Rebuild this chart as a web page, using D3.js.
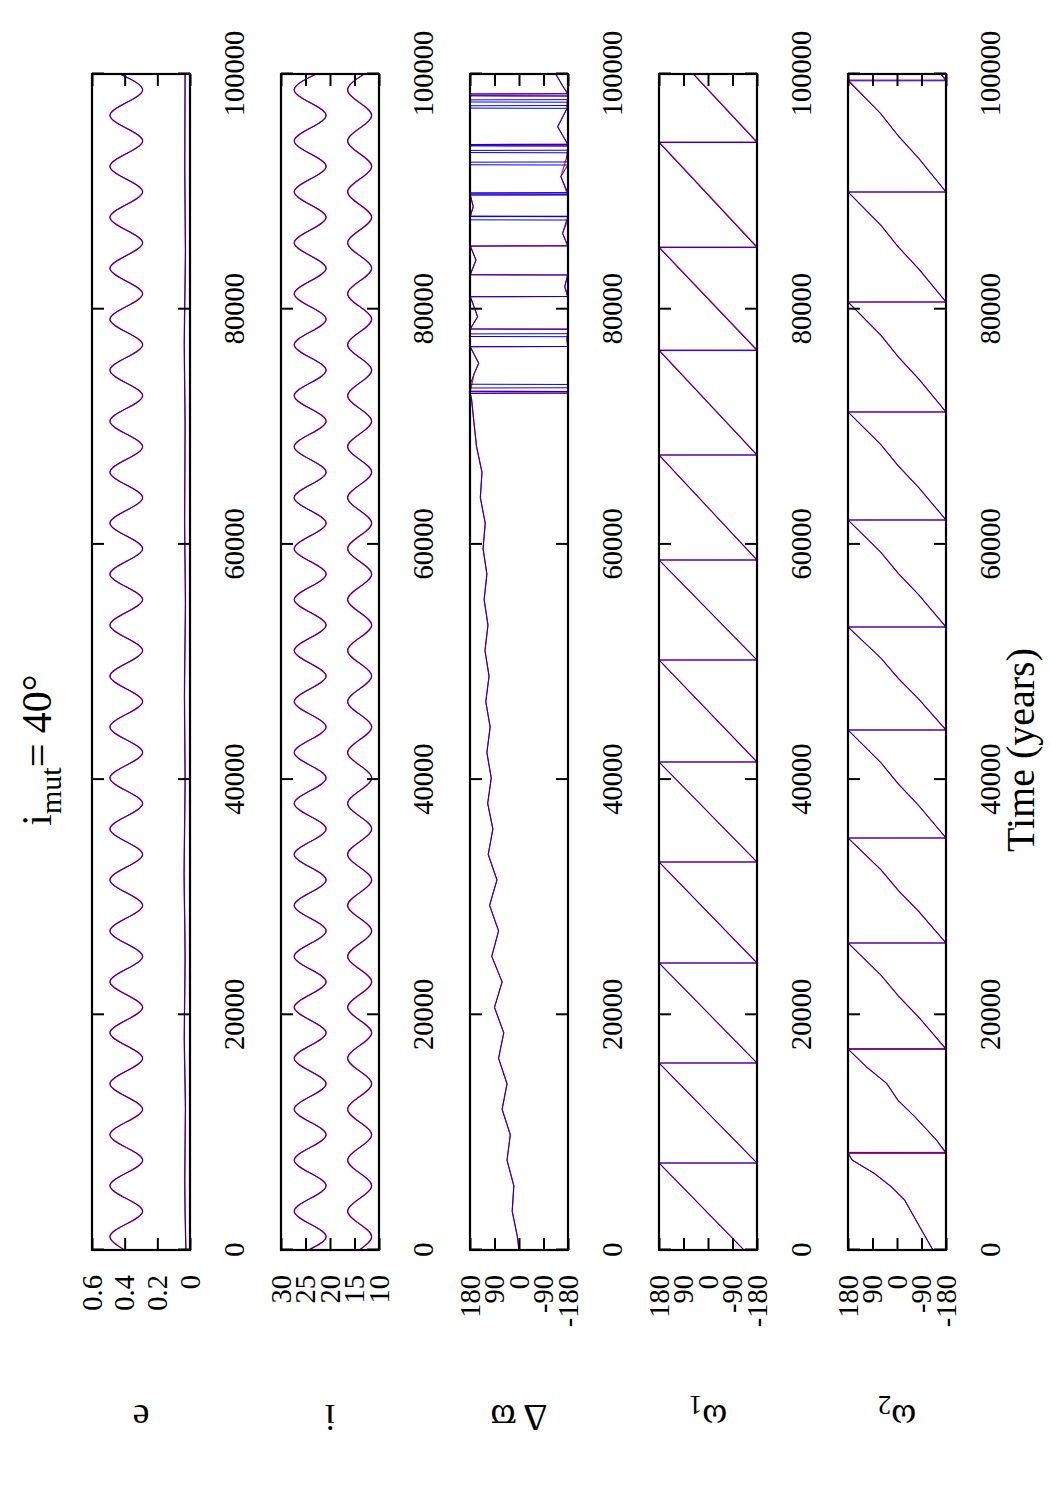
<!DOCTYPE html>
<html><head><meta charset="utf-8">
<script src="https://cdn.jsdelivr.net/npm/d3@7"></script>
<style>body{margin:0;background:#fff}</style>
</head><body>
<script>
// ---------- data ----------
const timeTicks = [0, 20000, 40000, 60000, 80000, 100000];
const eTicks = [0, 0.2, 0.4, 0.6];
const eTickLabels = ["0", "0.2", "0.4", "0.6"];
const iTicks = [10, 15, 20, 25, 30];
const angleTicks = [-180, -90, 0, 90, 180];
const panelNames = ["e", "i", "Δ ϖ", "ω", "ω"];
const panelSubs = ["", "", "", "1", "2"];

// times of extremes of the secular oscillation (years)
const extT = [0, 1130, 3297, 5464, 7631, 9798, 11965, 14132, 16299, 18466, 20633, 22800, 24967, 27134, 29301, 31468, 33635, 35802, 37969, 40136, 42303, 44470, 46637, 48804, 50971, 53138, 55305, 57472, 59639, 61806, 63973, 66140, 68307, 70474, 72641, 74808, 76975, 79142, 81309, 83476, 85643, 87810, 89977, 92144, 94311, 96478, 98645, 100000];
const eOuter = [0.40, 0.49, 0.29, 0.49, 0.29, 0.49, 0.29, 0.49, 0.29, 0.49, 0.29, 0.49, 0.29, 0.49, 0.29, 0.49, 0.29, 0.49, 0.29, 0.49, 0.29, 0.49, 0.29, 0.49, 0.29, 0.49, 0.29, 0.49, 0.29, 0.49, 0.29, 0.49, 0.29, 0.49, 0.29, 0.49, 0.29, 0.49, 0.29, 0.49, 0.29, 0.49, 0.29, 0.49, 0.29, 0.49, 0.29, 0.43];
const iOuterA = [24.4, 20.8, 27.3, 20.8, 27.3, 20.8, 27.3, 20.8, 27.3, 20.8, 27.3, 20.8, 27.3, 20.8, 27.3, 20.8, 27.3, 20.8, 27.3, 20.8, 27.3, 20.8, 27.3, 20.8, 27.3, 20.8, 27.3, 20.8, 27.3, 20.8, 27.3, 20.8, 27.3, 20.8, 27.3, 20.8, 27.3, 20.8, 27.3, 20.8, 27.3, 20.8, 27.3, 20.8, 27.3, 20.8, 27.3, 22.8];
const iInnerB = [14.0, 11.5, 16.4, 11.5, 16.4, 11.5, 16.4, 11.5, 16.4, 11.5, 16.4, 11.5, 16.4, 11.5, 16.4, 11.5, 16.4, 11.5, 16.4, 11.5, 16.4, 11.5, 16.4, 11.5, 16.4, 11.5, 16.4, 11.5, 16.4, 11.5, 16.4, 11.5, 16.4, 11.5, 16.4, 11.5, 16.4, 11.5, 16.4, 11.5, 16.4, 11.5, 16.4, 11.5, 16.4, 11.5, 16.4, 13.0];
const eInnerT = [0, 6000, 12000, 18000, 25000, 32000, 40000, 47000, 55000, 62000, 70000, 77000, 85000, 92000, 100000];
const eInner = [0.025, 0.032, 0.028, 0.035, 0.03, 0.036, 0.03, 0.034, 0.028, 0.033, 0.03, 0.035, 0.028, 0.032, 0.03];

const dwRed = [[0,0],[1130,6],[3297,25],[5464,19],[7631,44],[9798,32],[11965,62],[14132,44],[16299,75],[18466,56],[20633,90],[22800,62],[24967,100],[27134,75],[29301,108],[31468,81],[33635,113],[35802,96],[37969,115],[40136,102],[42303,118],[44470,106],[46637,122],[48804,110],[50971,125],[53138,114],[55305,128],[57472,118],[59639,132],[61806,124],[63973,142],[66140,136],[68307,156],[70474,166],[72300,174],[72850,179],[72870,-179],[73000,-178],[73020,179],[74500,165],[75400,148],[76300,168],[76810,179],[76830,-179],[77500,-176],[78300,-179],[78320,179],[79360,152],[80500,170],[81060,179],[81080,-179],[81910,-168],[82910,-179],[82930,179],[84180,158],[85370,179],[85390,-179],[86450,-160],[87870,-179],[87890,179],[88720,168],[89710,179],[89730,-179],[91270,-154],[93000,-176],[93880,-179],[93900,179],[94000,179],[94020,-179],[95520,-142],[97000,-175],[98130,-179],[98150,179],[98300,178],[98320,-179],[99000,-160],[100000,-135]];
const dwBlue = [[0,0],[1130,6],[3297,25],[5464,19],[7631,44],[9798,32],[11965,62],[14132,44],[16299,75],[18466,56],[20633,90],[22800,62],[24967,100],[27134,75],[29301,108],[31468,81],[33635,113],[35802,96],[37969,115],[40136,102],[42303,118],[44470,106],[46637,122],[48804,110],[50971,125],[53138,114],[55305,128],[57472,118],[59639,132],[61806,124],[63973,142],[66140,136],[68307,156],[70474,166],[72300,174],[72850,179],[72870,-179],[73000,-178],[73020,179],[73300,178],[73320,-179],[73600,-179],[73620,179],[74500,165],[75400,148],[76300,168],[76810,179],[76830,-179],[77500,-176],[77660,-179],[77680,179],[77900,178],[77920,-179],[78300,-179],[78320,179],[79360,152],[80500,170],[81060,179],[81080,-179],[81910,-168],[82910,-179],[82930,179],[84180,158],[85370,179],[85390,-179],[86450,-160],[87580,-179],[87600,179],[87870,179],[87890,-179],[87900,-179],[87920,179],[88720,168],[89710,179],[89730,-179],[89800,-179],[89820,179],[89900,179],[89920,-179],[91270,-154],[92260,-179],[92280,179],[92500,179],[92520,-179],[93000,-176],[93300,-179],[93320,179],[93500,179],[93520,-179],[93880,-179],[93900,179],[94000,179],[94020,-179],[95520,-142],[97000,-175],[97080,-179],[97100,179],[97300,178],[97320,-179],[97600,-179],[97620,179],[97800,179],[97820,-179],[98130,-179],[98150,179],[98300,178],[98320,-179],[99000,-160],[100000,-135]];

const w1Red = [[0,-132],[7398,180],[7399,-180],[15901,180],[15902,-180],[24405,180],[24406,-180],[32993,180],[32994,-180],[41497,180],[41498,-180],[50170,180],[50171,-180],[58673,180],[58674,-180],[67602,180],[67603,-180],[76531,180],[76532,-180],[85289,180],[85290,-180],[94218,180],[94219,-180],[100000,53]];
const w1Blue = [[0,-132],[7398,180],[7399,-180],[15901,180],[15902,-180],[24405,180],[24406,-180],[32993,180],[32994,-180],[41497,180],[41498,-180],[50170,180],[50171,-180],[58673,180],[58674,-180],[67602,180],[67603,-180],[76480,180],[76481,-180],[85240,180],[85241,-180],[94170,180],[94171,-180],[100000,55]];

const w2Red = [[0,-132],[1700,-90],[4250,-28],[5380,21],[6520,84],[7650,165],[8220,180],[8221,-180],[9350,-145],[11340,-65],[12750,-3],[14170,38],[15590,113],[17000,176],[17050,180],[17051,-180],[19795,-80],[21600,-5],[23400,60],[26105,180],[26106,-180],[28784,-80],[30570,-5],[32355,60],[35034,180],[35035,-180],[37789,-80],[39626,-5],[41463,60],[44218,180],[44219,-180],[46845,-80],[48597,-5],[50349,60],[52976,180],[52977,-180],[55706,-80],[57526,-5],[59345,60],[62075,180],[62076,-180],[64830,-80],[66667,-5],[68504,60],[71259,180],[71260,-180],[74065,-80],[75936,-5],[77806,60],[80612,180],[80613,-180],[83418,-80],[85289,-5],[87160,60],[89966,180],[89967,-180],[92823,-80],[94728,-5],[96633,60],[99490,180],[99491,-180],[100000,-162]];
const w2Blue = [[0,-132],[1700,-90],[4250,-28],[5380,21],[6520,84],[7650,165],[8300,180],[8301,-180],[9350,-145],[11340,-65],[12750,-3],[14170,38],[15590,113],[17000,176],[17120,180],[17121,-180],[19795,-80],[21600,-5],[23400,60],[26105,180],[26106,-180],[28784,-80],[30570,-5],[32355,60],[35034,180],[35035,-180],[37789,-80],[39626,-5],[41463,60],[44218,180],[44219,-180],[46845,-80],[48597,-5],[50349,60],[52976,180],[52977,-180],[55706,-80],[57526,-5],[59345,60],[62075,180],[62076,-180],[64830,-80],[66667,-5],[68504,60],[71259,180],[71260,-180],[74065,-80],[75936,-5],[77806,60],[80612,180],[80613,-180],[83418,-80],[85289,-5],[87160,60],[89966,180],[89967,-180],[92823,-80],[94728,-5],[96633,60],[99420,180],[99421,-180],[100000,-160]];

// ---------- drawing ----------
const RED = "#ff0000", BLUE = "#0000ff";
const FONT = "'Liberation Serif','Times New Roman',serif";
const svg = d3.select("body").append("svg").attr("width", 1050).attr("height", 1500);
svg.append("rect").attr("width", 1050).attr("height", 1500).attr("fill", "#fff");
// the figure is a landscape plot turned a quarter turn counter-clockwise
const root = svg.append("g").attr("transform", "translate(0,1500) rotate(-90)");

const x = d3.scaleLinear().domain([0, 100000]).range([250, 1426]);
const panelTop = [92, 281, 470, 659, 848];
const PH = 98;

const zipT = (ts, vs) => ts.map((t, k) => [t, vs[k]]);
const panels = [
  {domain: [0, 0.6], ticks: eTicks, fmt: (d, k) => eTickLabels[k], curve: d3.curveMonotoneX,
   series: [[zipT(extT, eOuter), RED, 1.3], [zipT(eInnerT, eInner), RED, 1.3], [zipT(extT, eOuter), BLUE, 1], [zipT(eInnerT, eInner), BLUE, 1]]},
  {domain: [10, 30], ticks: iTicks, fmt: d => String(d), curve: d3.curveMonotoneX,
   series: [[zipT(extT, iOuterA), RED, 1.3], [zipT(extT, iInnerB), RED, 1.3], [zipT(extT, iOuterA), BLUE, 1], [zipT(extT, iInnerB), BLUE, 1]]},
  {domain: [-180, 180], ticks: angleTicks, fmt: d => String(d), curve: d3.curveLinear,
   series: [[dwRed, RED, 1.2], [dwBlue, BLUE, 1]]},
  {domain: [-180, 180], ticks: angleTicks, fmt: d => String(d), curve: d3.curveLinear,
   series: [[w1Red, RED, 1.2], [w1Blue, BLUE, 1]]},
  {domain: [-180, 180], ticks: angleTicks, fmt: d => String(d), curve: d3.curveLinear,
   series: [[w2Red, RED, 1.2], [w2Blue, BLUE, 1]]}
];

panels.forEach((p, k) => {
  const top = panelTop[k], bot = top + PH;
  const y = d3.scaleLinear().domain(p.domain).range([bot, top]);
  const g = root.append("g");
  const cid = "clip" + k;
  g.append("clipPath").attr("id", cid).append("rect")
    .attr("x", x.range()[0]).attr("y", top).attr("width", x.range()[1] - x.range()[0]).attr("height", PH);
  const line = d3.line().x(d => x(d[0])).y(d => y(d[1])).curve(p.curve);
  const cg = g.append("g").attr("clip-path", `url(#${cid})`);
  p.series.forEach(([data, col, w]) => {
    cg.append("path").datum(data).attr("d", line).attr("fill", "none")
      .attr("stroke", col).attr("stroke-width", w).attr("stroke-linejoin", "round");
  });

  // axes (ticks point inward, mirrored on all sides)
  g.append("g").attr("transform", `translate(0,${bot})`)
    .call(d3.axisBottom(x).tickValues(timeTicks).tickSize(-12).tickSizeOuter(0).tickPadding(34).tickFormat(d3.format("d")));
  g.append("g").attr("transform", `translate(0,${top})`)
    .call(d3.axisTop(x).tickValues(timeTicks).tickSize(-12).tickSizeOuter(0).tickFormat(""));
  g.append("g").attr("transform", `translate(${x.range()[0]},0)`)
    .call(d3.axisLeft(y).tickValues(p.ticks).tickSize(-12).tickSizeOuter(0).tickPadding(25).tickFormat(p.fmt));
  g.append("g").attr("transform", `translate(${x.range()[1]},0)`)
    .call(d3.axisRight(y).tickValues(p.ticks).tickSize(-12).tickSizeOuter(0).tickFormat(""));
  g.selectAll(".domain").remove();
  g.selectAll(".tick line").attr("stroke", "#000").attr("stroke-width", 2);
  g.selectAll(".tick text").style("font-family", FONT).style("font-size", "28.5px").attr("fill", "#000");

  g.append("rect").attr("x", x.range()[0]).attr("y", top)
    .attr("width", x.range()[1] - x.range()[0]).attr("height", PH)
    .attr("fill", "none").attr("stroke", "#000").attr("stroke-width", 2.2);

  // panel label (y-label, rotated)
  const lab = root.append("text").attr("transform", `translate(95,${top + PH / 2}) rotate(-90)`)
    .attr("text-anchor", "middle").style("font-family", FONT).style("font-size", "38px").attr("fill", "#000");
  lab.append("tspan").text(panelNames[k]);
  if (panelSubs[k]) lab.append("tspan").style("font-size", "27px").attr("dy", 9).text(panelSubs[k]);
});

// title
const title = root.append("text").attr("x", 750).attr("y", 51).attr("text-anchor", "middle")
  .style("font-family", FONT).style("font-size", "42px").attr("fill", "#000");
title.append("tspan").text("i");
title.append("tspan").style("font-size", "30px").attr("dy", 10).text("mut");
title.append("tspan").attr("dy", -10).text("= 40°");

// x-axis title
root.append("text").attr("x", 750).attr("y", 1034).attr("text-anchor", "middle")
  .style("font-family", FONT).style("font-size", "40px").attr("fill", "#000").text("Time (years)");
</script>
</body></html>
